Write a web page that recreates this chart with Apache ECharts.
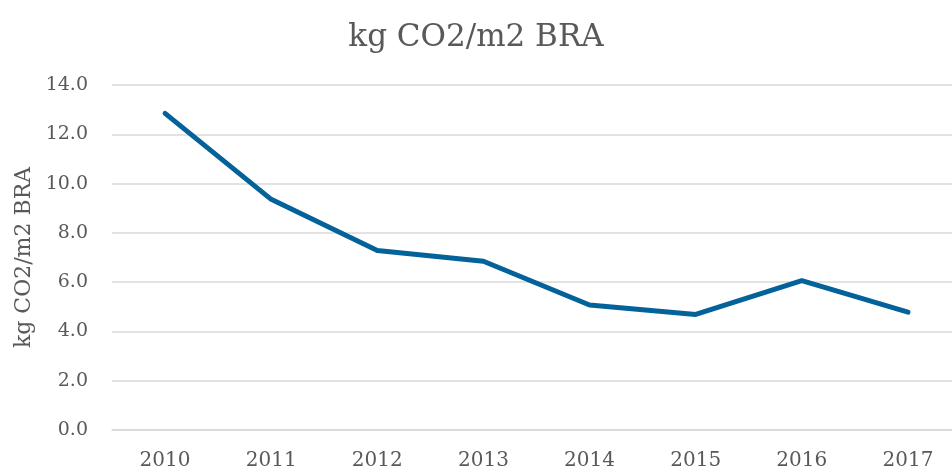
<!DOCTYPE html>
<html>
<head>
<meta charset="utf-8">
<script src="https://cdn.jsdelivr.net/npm/echarts@6/dist/echarts.min.js"></script>
<style>
  html, body { margin: 0; padding: 0; background: #fff; }
  #chart { width: 952px; height: 470px; }
</style>
</head>
<body>
<div id="chart"></div>
<script>
// kg CO2 per m2 BRA, 2010-2017
var years = ['2010', '2011', '2012', '2013', '2014', '2015', '2016', '2017'];
var co2Values = [12.85, 9.36, 7.28, 6.85, 5.07, 4.69, 6.06, 4.78];
var yTicks = [0, 2, 4, 6, 8, 10, 12, 14];

var chartTitle = 'kg CO2/m2 BRA';
var yName = 'kg CO2/m2 BRA';

var serif = '"DejaVu Serif", serif';
var grey = '#595959';

var myChart = echarts.init(document.getElementById('chart'));

myChart.setOption({
    animation: false,
    title: {
        text: chartTitle,
        left: 'center',
        top: 17,
        textStyle: { fontFamily: serif, fontSize: 31, fontWeight: 'normal', color: grey }
    },
    grid: {
        left: 112,
        right: -9,
        top: 85,
        bottom: 40,
        containLabel: false,
        outerBoundsMode: 'none'
    },
    xAxis: {
        type: 'category',
        data: years,
        boundaryGap: true,
        axisLine: { show: true, lineStyle: { color: '#d9d9d9', width: 1.5 } },
        axisTick: { show: false },
        axisLabel: { color: grey, fontFamily: serif, fontSize: 20, margin: 21 }
    },
    yAxis: {
        type: 'value',
        min: yTicks[0],
        max: yTicks[yTicks.length - 1],
        interval: 2,
        name: yName,
        nameLocation: 'middle',
        nameRotate: 90,
        nameGap: 76,
        nameTextStyle: { color: grey, fontFamily: serif, fontSize: 22 },
        axisLine: { show: false },
        axisTick: { show: false },
        axisLabel: {
            color: grey, fontFamily: serif, fontSize: 19, margin: 24,
            formatter: function (v) { return v.toFixed(1); }
        },
        splitLine: { lineStyle: { color: '#d9d9d9', width: 1.5 } }
    },
    series: [{
        type: 'line',
        data: co2Values,
        symbol: 'none',
        lineStyle: { color: '#04629b', width: 5, cap: 'round', join: 'round' }
    }]
});
</script>
</body>
</html>
